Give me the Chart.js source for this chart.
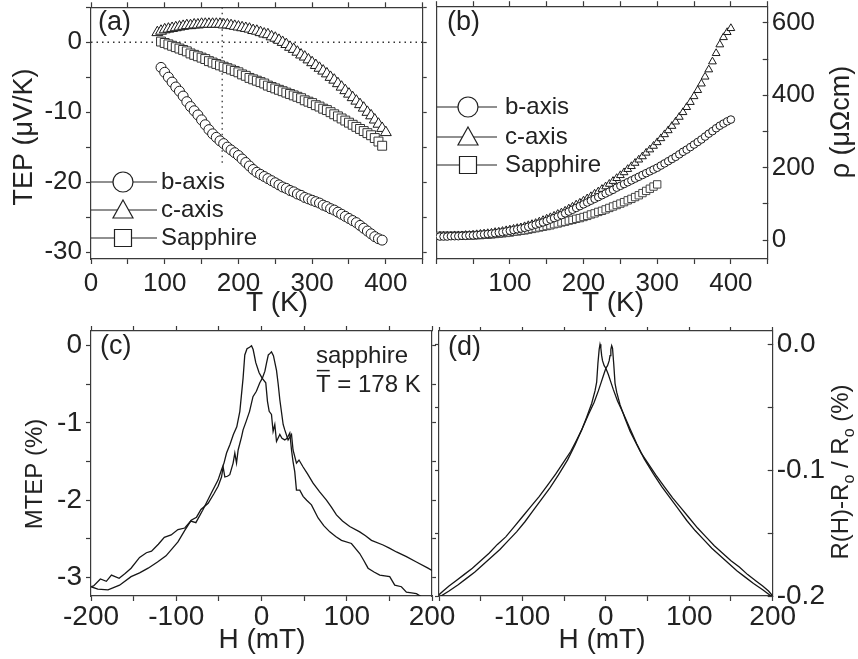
<!DOCTYPE html>
<html>
<head>
<meta charset="utf-8">
<script src="https://cdn.jsdelivr.net/npm/chart.js@4.4.0/dist/chart.umd.min.js"></script>
<style>
html, body { margin: 0; padding: 0; background: #fff; }
#wrap { position: relative; width: 858px; height: 659px; overflow: hidden; }
canvas { position: absolute; }
</style>
</head>
<body>
<div id="wrap">
  <canvas id="pa" width="430" height="330" style="left:0;top:0"></canvas>
  <canvas id="pb" width="428" height="330" style="left:430px;top:0"></canvas>
  <canvas id="pc" width="470" height="339" style="left:0;top:320px"></canvas>
  <canvas id="pd" width="428" height="339" style="left:430px;top:320px"></canvas>
</div>
<script>
var FONT = "'Liberation Sans', Arial, Helvetica, sans-serif";
var INK = '#222';

// (a) thermopower vs temperature
var aTemp = [95,100,105,110,115,120,125,130,135,140,145,150,155,160,165,170,175,180,185,190,195,200,205,210,215,220,225,230,235,240,245,250,255,260,265,270,275,280,285,290,295,300,305,310,315,320,325,330,335,340,345,350,355,360,365,370,375,380,385,390,395];
var aTepB = [-3.6,-4.3,-5.0,-5.7,-6.4,-7.0,-7.7,-8.5,-9.2,-9.8,-10.4,-11.1,-11.8,-12.5,-13.1,-13.6,-14.1,-14.5,-15.0,-15.4,-15.8,-16.2,-16.7,-17.2,-17.7,-18.2,-18.6,-18.9,-19.2,-19.5,-19.8,-20.1,-20.4,-20.7,-20.9,-21.2,-21.4,-21.7,-21.9,-22.2,-22.4,-22.6,-22.8,-23.0,-23.3,-23.5,-23.8,-24.0,-24.3,-24.6,-24.9,-25.2,-25.5,-25.8,-26.2,-26.6,-27.0,-27.4,-27.8,-28.1,-28.3];
var aTepS = [0.1,-0.1,-0.3,-0.5,-0.7,-0.9,-1.1,-1.3,-1.6,-1.8,-2.0,-2.2,-2.4,-2.7,-2.9,-3.1,-3.3,-3.5,-3.7,-3.9,-4.1,-4.3,-4.6,-4.8,-5.1,-5.3,-5.5,-5.7,-5.9,-6.2,-6.4,-6.6,-6.8,-7.0,-7.2,-7.4,-7.6,-7.8,-8.0,-8.3,-8.5,-8.7,-9.0,-9.2,-9.5,-9.7,-10.0,-10.3,-10.6,-10.9,-11.2,-11.5,-11.8,-12.1,-12.4,-12.7,-13.0,-13.3,-13.7,-14.2,-14.8];
var aTempC = [90,95,100,105,110,115,120,125,130,135,140,145,150,155,160,165,170,175,180,185,190,195,200,205,210,215,220,225,230,235,240,245,250,255,260,265,270,275,280,285,290,295,300,305,310,315,320,325,330,335,340,345,350,355,360,365,370,375,380,385,390,395,400];
var aTepC = [1.4,1.6,1.8,1.9,2.0,2.1,2.2,2.3,2.4,2.4,2.5,2.5,2.6,2.6,2.6,2.6,2.6,2.6,2.5,2.5,2.4,2.3,2.2,2.1,2.0,1.9,1.7,1.6,1.4,1.2,1.1,0.8,0.6,0.3,0.0,-0.3,-0.7,-1.0,-1.4,-1.8,-2.1,-2.5,-2.9,-3.3,-3.7,-4.1,-4.5,-5.0,-5.4,-5.9,-6.4,-6.9,-7.4,-7.9,-8.4,-8.9,-9.4,-10.0,-10.5,-11.1,-11.7,-12.3,-12.9];
var tMean = 178;

// (b) resistivity vs temperature
var bTemp = [5,10,15,20,25,30,35,40,45,50,55,60,65,70,75,80,85,90,95,100,105,110,115,120,125,130,135,140,145,150,155,160,165,170,175,180,185,190,195,200,205,210,215,220,225,230,235,240,245,250,255,260,265,270,275,280,285,290,295,300,305,310,315,320,325,330,335,340,345,350,355,360,365,370,375,380,385,390,395,400];
var bRhoB = [10,10,10,11,11,11,12,12,13,13,14,15,16,17,18,19,21,22,24,26,28,30,32,34,37,40,43,46,49,53,57,61,65,69,74,79,84,89,94,99,104,109,114,119,124,129,134,139,145,150,155,160,165,170,175,180,185,190,195,200,206,212,218,224,230,237,244,250,257,264,271,278,286,294,301,309,316,322,328,333];
var bRhoC = [12,12,12,12,13,13,13,14,14,15,16,17,18,19,20,22,23,25,27,29,31,33,35,38,41,44,47,51,55,59,63,67,72,76,81,87,92,98,103,109,115,121,128,134,141,148,155,163,171,179,187,196,204,213,222,231,241,250,260,270,281,292,303,315,327,340,353,367,381,397,414,432,451,471,493,516,540,560,574,585];
var bRhoS = [12,12,12,12,12,12,12,13,13,13,14,14,15,15,16,17,18,19,20,21,23,24,26,27,29,31,33,35,37,39,41,44,46,49,51,54,56,59,61,64,67,71,74,78,81,85,89,93,97,101,105,110,114,119,124,130,136,142,148,154];
var bRhoTicks = [0, 100, 200, 300, 400, 500, 600];

// (c) MTEP vs field, two sweeps
var cField1 = [-200,-197,-189,-182,-176,-167,-160,-153,-143,-135,-129,-121,-114,-106,-98,-90,-83,-77,-69,-59,-51,-47,-44,-41,-37,-33,-29,-25.4,-21.6,-19.6,-17,-14,-11.7,-9.8,-6.7,-2.8,0.7,5,7,9,11.7,13.6,15.6,17.6,21.5,24,27.3,30,33.2,35.2,37,39,41,44.9,48.8,53,58.6,66.4,73,80.1,87,93.8,105.5,115.2,120,125,132,138.7,150.4,156.3,164.1,170,176,181.7,187.6,192];
var cMtep1 = [-3.12,-3.11,-3.02,-3.05,-2.97,-3.01,-2.95,-2.88,-2.74,-2.68,-2.66,-2.57,-2.48,-2.45,-2.38,-2.36,-2.27,-2.29,-2.13,-1.91,-1.74,-1.61,-1.52,-1.39,-1.28,-1.15,-1.05,-0.85,-0.42,-0.12,-0.04,-0.02,0.0,-0.05,-0.22,-0.35,-0.42,-0.48,-0.72,-0.85,-0.89,-1.11,-1.02,-1.24,-1.15,-1.20,-1.22,-1.20,-1.13,-1.35,-1.50,-1.63,-1.87,-1.87,-1.95,-2.00,-2.06,-2.23,-2.33,-2.41,-2.47,-2.52,-2.56,-2.69,-2.78,-2.88,-2.93,-2.97,-2.99,-3.10,-3.12,-3.19,-3.20,-3.21,-3.25,-3.28];
var cField2 = [-200,-192,-180,-166.5,-153,-143,-133,-122,-112,-105,-98,-90,-82.5,-76.2,-71,-62.6,-56,-50.9,-46.9,-45,-43,-40,-37.2,-33.3,-31.3,-29.3,-27.4,-23.4,-21.6,-18,-14,-10,-6,-2,1,4,6,8,10,11.7,14,17.6,19.5,21.5,25.4,27.3,31.2,35.2,37,41,44,48.8,54,60.5,68,76.2,82,87.9,95,103.5,115.2,122,129,142.6,150,158.3,170,181.7,195.3,200];
var cMtep2 = [-3.12,-3.15,-3.16,-3.10,-2.99,-2.94,-2.88,-2.80,-2.72,-2.63,-2.54,-2.39,-2.26,-2.22,-2.12,-2.04,-1.92,-1.82,-1.70,-1.57,-1.70,-1.69,-1.67,-1.52,-1.39,-1.52,-1.35,-1.18,-1.09,-0.98,-0.85,-0.66,-0.59,-0.48,-0.42,-0.33,-0.22,-0.12,-0.10,-0.08,-0.13,-0.32,-0.49,-0.70,-1.02,-1.09,-1.22,-1.15,-1.35,-1.52,-1.48,-1.57,-1.66,-1.78,-1.89,-2.00,-2.09,-2.19,-2.27,-2.34,-2.41,-2.46,-2.52,-2.58,-2.62,-2.67,-2.73,-2.80,-2.88,-2.91];

// (d) magnetoresistance vs field, two sweeps
var dField1 = [-200,-195,-188,-180,-170,-160,-150,-140,-130,-120,-110,-100,-90,-80,-70,-60,-50,-42,-35,-29,-23,-17,-13,-11,-9.5,-8,-7,-6,-5,-4,-2,0,3,6,9,14,21,29,37,46,57,67,77,87,97,107,117,127,137,147,157,167,177,188,200];
var dMr1 = [-0.199,-0.196,-0.192,-0.188,-0.183,-0.178,-0.172,-0.166,-0.159,-0.153,-0.145,-0.137,-0.129,-0.121,-0.112,-0.103,-0.093,-0.085,-0.076,-0.068,-0.058,-0.047,-0.037,-0.030,-0.015,-0.004,0.000,-0.003,-0.009,-0.013,-0.017,-0.019,-0.024,-0.030,-0.036,-0.045,-0.055,-0.067,-0.079,-0.091,-0.103,-0.113,-0.122,-0.131,-0.140,-0.148,-0.155,-0.162,-0.168,-0.174,-0.180,-0.185,-0.190,-0.195,-0.201];
var dField2 = [-200,-188,-177,-167,-157,-147,-137,-127,-117,-107,-97,-87,-77,-67,-57,-46,-37,-29,-21,-14,-9,-6,-3,0,2,4,5,6,7,8,9.5,11,13,17,23,29,35,42,50,60,70,80,90,100,110,120,130,140,150,160,170,180,188,195,200];
var dMr2 = [-0.201,-0.196,-0.191,-0.186,-0.181,-0.175,-0.169,-0.163,-0.156,-0.149,-0.141,-0.132,-0.123,-0.114,-0.104,-0.092,-0.080,-0.068,-0.056,-0.046,-0.037,-0.031,-0.025,-0.019,-0.017,-0.013,-0.009,-0.004,-0.001,-0.003,-0.016,-0.031,-0.038,-0.048,-0.059,-0.069,-0.077,-0.086,-0.094,-0.104,-0.113,-0.122,-0.130,-0.138,-0.146,-0.153,-0.160,-0.166,-0.172,-0.177,-0.183,-0.188,-0.192,-0.196,-0.200];

function pts(xs, ys) {
  return xs.map(function (x, i) { return {x: x, y: ys[i]}; });
}

// pin every axis box to a fixed size so the four plot frames line up
function fixSize(w, h) {
  return function (s) {
    if (w != null) s.width = w;
    if (h != null) s.height = h;
    s.paddingLeft = 0; s.paddingRight = 0; s.paddingTop = 0; s.paddingBottom = 0;
  };
}

function axis(pos, min, max, step, size, tick, labels, pad, fontSize, values) {
  var horiz = pos === 'top' || pos === 'bottom';
  var a = {
    type: 'linear', position: pos, min: min, max: max,
    border: {color: '#3a3a3a', width: 1.2},
    grid: {drawOnChartArea: false, drawTicks: tick !== 0, tickLength: tick, tickColor: '#3a3a3a', tickWidth: 1.2},
    ticks: {
      display: !!labels, stepSize: step, includeBounds: false, autoSkip: false,
      maxRotation: 0, minRotation: 0, padding: pad || 0, color: INK,
      font: {family: FONT, size: fontSize || 26},
      callback: labels || function () { return ''; }
    },
    afterFit: horiz ? fixSize(null, size) : fixSize(size, null)
  };
  if (values) {
    a.afterBuildTicks = function (s) { s.ticks = values.map(function (v) { return {value: v}; }); };
  }
  return a;
}

function mark(ctx, style, x, y, r) {
  ctx.beginPath();
  if (style === 'circle') {
    ctx.arc(x, y, r, 0, Math.PI * 2);
  } else if (style === 'triangle') {
    ctx.moveTo(x, y - r);
    ctx.lineTo(x + r, y + r * 0.8);
    ctx.lineTo(x - r, y + r * 0.8);
    ctx.closePath();
  } else {
    ctx.rect(x - r * 0.85, y - r * 0.85, r * 1.7, r * 1.7);
  }
  ctx.fillStyle = '#fff';
  ctx.fill();
  ctx.stroke();
}

function drawText(ctx, it) {
  var parts = it.parts || [{t: it.t}];
  var small = Math.round(it.size * 0.65);
  function fontOf(p) { return (p.sub ? small : it.size) + 'px ' + FONT; }
  var w = 0;
  parts.forEach(function (p) { ctx.font = fontOf(p); p.w = ctx.measureText(p.t).width; w += p.w; });
  ctx.save();
  ctx.translate(it.x, it.y);
  if (it.rot) ctx.rotate(-Math.PI / 2);
  ctx.fillStyle = INK;
  ctx.textAlign = 'left';
  ctx.textBaseline = 'middle';
  var x = it.align === 'left' ? 0 : -w / 2;
  parts.forEach(function (p) {
    ctx.font = fontOf(p);
    ctx.fillText(p.t, x, p.sub ? it.size * 0.35 : 0);
    if (p.bar) {
      ctx.strokeStyle = INK; ctx.lineWidth = 1.5;
      ctx.beginPath(); ctx.moveTo(x + 1, -it.size * 0.6); ctx.lineTo(x + p.w - 1, -it.size * 0.6); ctx.stroke();
    }
    x += p.w;
  });
  ctx.restore();
}

function decor(texts, legend) {
  return {
    id: 'decor',
    afterDraw: function (chart) {
      var ctx = chart.ctx;
      ctx.save();
      if (legend) {
        var sets = chart.data.datasets.filter(function (d) { return d.label; });
        sets.forEach(function (d, i) {
          var y = legend.ys[i];
          ctx.strokeStyle = '#222'; ctx.lineWidth = 1.2;
          ctx.beginPath(); ctx.moveTo(legend.x0, y); ctx.lineTo(legend.x1, y); ctx.stroke();
          mark(ctx, d.pointStyle, legend.mx, y, legend.r);
          ctx.fillStyle = INK;
          ctx.font = legend.size + 'px ' + FONT;
          ctx.textAlign = 'left'; ctx.textBaseline = 'middle';
          ctx.fillText(d.label, legend.tx, y);
        });
      }
      texts.forEach(function (t) { drawText(ctx, t); });
      ctx.restore();
    }
  };
}

function markers(label, xs, ys, style, r, edge) {
  return {
    label: label, data: pts(xs, ys), showLine: false,
    pointStyle: style, pointRadius: r, pointHoverRadius: r,
    pointBackgroundColor: '#fff', pointBorderColor: edge || '#1a1a1a', pointBorderWidth: 1
  };
}

function curve(xs, ys) {
  return {
    data: pts(xs, ys), showLine: true, borderColor: '#161616', borderWidth: 1.3,
    pointRadius: 0, tension: 0
  };
}

function baseOptions(scales) {
  return {
    animation: false, responsive: false,
    layout: {padding: 0},
    plugins: {legend: {display: false}, tooltip: {enabled: false}},
    scales: scales
  };
}

var every100 = function (v) { return v % 100 === 0 ? String(v) : ''; };

// (a)
new Chart(document.getElementById('pa'), {
  type: 'scatter',
  data: {datasets: [
    markers('b-axis', aTemp, aTepB, 'circle', 5),
    markers('c-axis', aTempC, aTepC, 'triangle', 6.3),
    markers('Sapphire', aTemp, aTepS, 'rect', 6.3, '#333'),
    {data: pts([0, 450], [0, 0]), showLine: true, borderColor: '#333', borderWidth: 1.3, borderDash: [1.5, 4], pointRadius: 0},
    {data: pts([tMean, tMean], [5, -17.3]), showLine: true, borderColor: '#333', borderWidth: 1.3, borderDash: [1.5, 4], pointRadius: 0}
  ]},
  options: baseOptions({
    x: axis('bottom', 0, 450, 50, 71, 5, every100, 4, 26),
    y: axis('left', -31, 5, 5, 91, 5, function (v) { return v % 10 === 0 ? String(v) : ''; }, 4, 26),
    x2: axis('top', 0, 450, 50, 5, 5),
    y2: axis('right', -31, 5, 5, 4, 4)
  }),
  plugins: [decor([
    {t: '(a)', x: 98, y: 23, size: 27, align: 'left'},
    {t: 'T (K)', x: 277, y: 303, size: 28},
    {t: 'TEP (\u03bcV/K)', x: 25, y: 137, size: 27, rot: true}
  ], {x0: 91, x1: 157, mx: 123, tx: 161, ys: [182, 210, 238], r: 10, size: 24})]
});

// (b)
new Chart(document.getElementById('pb'), {
  type: 'scatter',
  data: {datasets: [
    markers('b-axis', bTemp, bRhoB, 'circle', 3.8),
    markers('c-axis', bTemp, bRhoC, 'triangle', 4.5),
    markers('Sapphire', bTemp.slice(0, bRhoS.length), bRhoS, 'rect', 5.2, '#444')
  ]},
  options: baseOptions({
    x: axis('bottom', 0, 450, 50, 71, 5, function (v) { return v % 100 === 0 && v > 0 ? String(v) : ''; }, 4, 26),
    y: axis('right', -52, 646, 100, 90.3, -5, function (v) { return v % 200 === 0 ? String(v) : ''; }, 9, 26, bRhoTicks),
    x2: axis('top', 0, 450, 50, 5, 5),
    y2: axis('left', -52, 646, 100, 4, 0, null, 0, 26, bRhoTicks)
  }),
  plugins: [decor([
    {t: '(b)', x: 17, y: 23, size: 27, align: 'left'},
    {t: 'T (K)', x: 183, y: 303, size: 28},
    {t: '\u03c1 (\u03bc\u03a9cm)', x: 412, y: 122, size: 27, rot: true}
  ], {x0: 7, x1: 67, mx: 38, tx: 75, ys: [107, 137, 165], r: 10, size: 24})]
});

// (c)
new Chart(document.getElementById('pc'), {
  type: 'scatter',
  data: {datasets: [curve(cField1, cMtep1), curve(cField2, cMtep2)]},
  options: baseOptions({
    x: axis('bottom', -200, 200, 50, 63, 5, every100, -1, 28),
    y: axis('left', -3.24, 0.19, 0.5, 91, 5, function (v) { return Number.isInteger(v) ? String(v) : ''; }, 4, 28),
    x2: axis('top', -200, 200, 50, 11, 5),
    y2: axis('right', -3.24, 0.19, 0.5, 38, 4)
  }),
  plugins: [decor([
    {t: '(c)', x: 100, y: 27, size: 27, align: 'left'},
    {t: 'sapphire', x: 316, y: 36, size: 24, align: 'left'},
    {parts: [{t: 'T', bar: true}, {t: ' = 178 K'}], x: 316, y: 65, size: 24, align: 'left'},
    {t: 'H (mT)', x: 262, y: 320, size: 28},
    {t: 'MTEP (%)', x: 35, y: 154, size: 24, rot: true}
  ])]
});

// (d)
new Chart(document.getElementById('pd'), {
  type: 'scatter',
  data: {datasets: [curve(dField1, dMr1), curve(dField2, dMr2)]},
  options: baseOptions({
    x: axis('bottom', -200, 200, 50, 63, 5, function (v) { return v % 100 === 0 && v > -200 ? String(v) : ''; }, -1, 28),
    y: axis('right', -0.2, 0.0106, 0.05, 85.3, -5, function (v) { return Math.abs(v * 10 - Math.round(v * 10)) < 1e-6 ? v.toFixed(1) : ''; }, 9, 28),
    x2: axis('top', -200, 200, 50, 11, 4),
    y2: axis('left', -0.2, 0.0106, 0.05, 9, 4)
  }),
  plugins: [decor([
    {t: '(d)', x: 18, y: 28, size: 27, align: 'left'},
    {t: 'H (mT)', x: 172, y: 320, size: 28},
    {parts: [{t: 'R(H)-R'}, {t: 'o', sub: true}, {t: ' / R'}, {t: 'o', sub: true}, {t: ' (%)'}], x: 411, y: 152, size: 24, rot: true}
  ])]
});
</script>
</body>
</html>
